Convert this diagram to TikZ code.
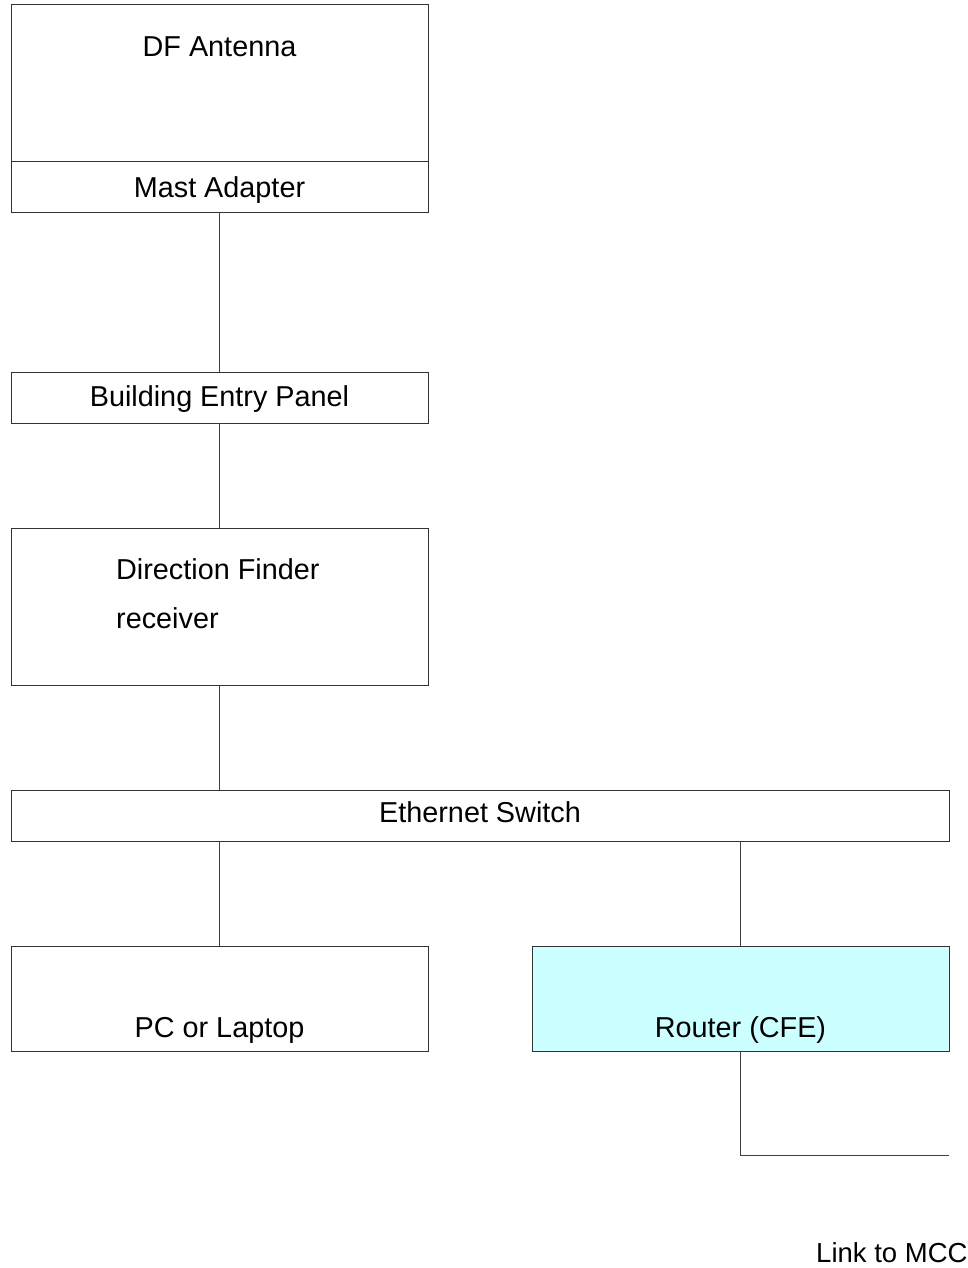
\documentclass[tikz,border=0pt]{standalone}
\usepackage{fontspec}
\setmainfont{Liberation Sans}
\begin{document}
\begin{tikzpicture}[x=1pt,y=-1pt,
  box/.style={draw=black!80, line width=1pt, rectangle, inner sep=0pt, outer sep=0pt},
  wire/.style={draw=black!75, line width=1pt},
  lbl/.style={inner sep=0pt, font=\fontsize{28.8}{34}\selectfont, anchor=base}]
  \useasboundingbox (0,0) rectangle (968,1268);

  % antenna with its mast adapter underneath
  \node[box, minimum width=417pt, minimum height=157pt] (ant) at (219.5,83.5) {};
  \node[box, minimum width=417pt, minimum height=50pt] (mast) at (219.5,187) {};
  \node[lbl] (antT) at (219.5,57) {DF Antenna};
  \node[lbl] (mastT) at (219.5,197) {Mast Adapter};

  % building entry panel
  \node[box, minimum width=417pt, minimum height=51pt] (bep) at (219.5,397.5) {};
  \node[lbl] (bepT) at (219.5,406) {Building Entry Panel};

  % receiver
  \node[box, minimum width=417pt, minimum height=157pt] (dfr) at (219.5,606.5) {};
  \node[lbl, anchor=base west] (dfrT1) at (116,579) {Direction Finder};
  \node[lbl, anchor=base west] (dfrT2) at (116,628) {receiver};

  % ethernet switch
  \node[box, minimum width=938pt, minimum height=51pt] (es) at (480,815.5) {};
  \node[lbl] (esT) at (480,822) {Ethernet Switch};

  % end devices
  \node[box, minimum width=417pt, minimum height=105pt] (pc) at (219.5,998.5) {};
  \node[lbl] (pcT) at (219.5,1037) {PC or Laptop};
  \node[box, fill={rgb,255:red,204;green,255;blue,255}, minimum width=417pt, minimum height=105pt] (rt) at (740.5,998.5) {};
  \node[lbl] (rtT) at (740.5,1037) {Router (CFE)};

  % external link
  \coordinate (mcc) at (949,1155);
  \node[lbl, anchor=base west, font=\fontsize{27.5}{33}\selectfont] (mccT) at (816,1262) {Link to MCC};

  % cabling
  \draw[wire] (mast.south) -- (bep.north);
  \draw[wire] (bep.south) -- (dfr.north);
  \draw[wire] (dfr.south) -- (dfr.south |- es.north);
  \draw[wire] (pc.north |- es.south) -- (pc.north);
  \draw[wire] (rt.north |- es.south) -- (rt.north);
  \draw[wire] (rt.south) |- (mcc);
\end{tikzpicture}
\end{document}
